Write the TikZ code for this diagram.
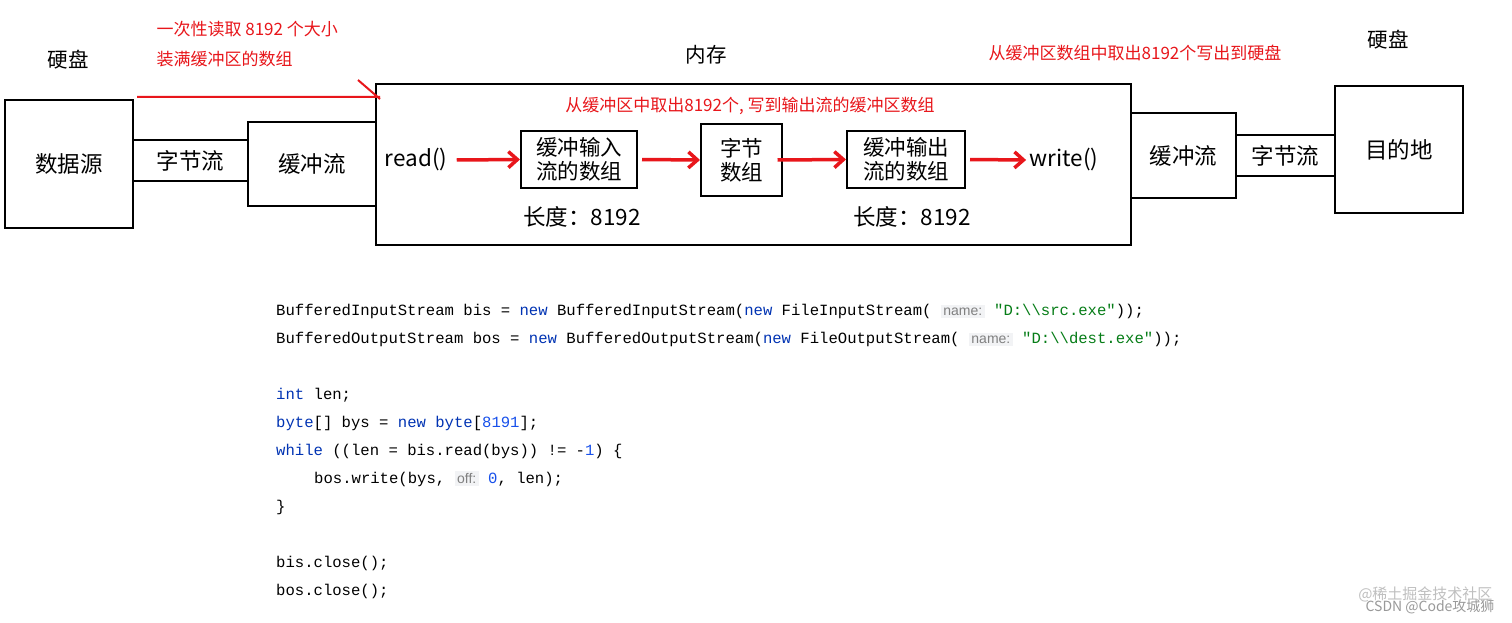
\documentclass[tikz,border=0pt]{standalone}
\usepackage{fontspec}
\setmainfont{Noto Sans CJK SC}
\newfontfamily\codefont{Liberation Mono}
\newfontfamily\hintfont{Liberation Sans}
\usetikzlibrary{arrows.meta}
\definecolor{kw}{HTML}{0033B3}
\definecolor{str}{HTML}{067D17}
\definecolor{num}{HTML}{1750EB}
\definecolor{hintbg}{HTML}{F2F3F5}
\definecolor{redc}{HTML}{E8161B}
\newcommand{\kwd}[1]{\textcolor{kw}{#1}}
\newcommand{\strg}[1]{\textcolor{str}{#1}}
\newcommand{\numb}[1]{\textcolor{num}{#1}}
\newcommand{\hintb}[1]{{\setlength{\fboxsep}{2.5pt}\colorbox{hintbg}{\hintfont\fontsize{14}{14}\selectfont\textcolor{gray}{#1}}}}
\begin{document}
\begin{tikzpicture}[x=1pt,y=-1pt,
  box/.style={draw,line width=2pt,inner sep=0pt},
  lbl/.style={font=\fontsize{22.5}{25}\selectfont,align=center},
  red/.style={text=redc,font=\fontsize{17}{19}\selectfont},
  arr/.style={draw=redc,line width=3.5pt,-{Straight Barb[length=9pt,width=16pt,line width=3.5pt]}},
  code/.style={anchor=west,font=\codefont\fontsize{15.6}{16}\selectfont,inner sep=0pt}]
\useasboundingbox[fill=white] (0,0) rectangle (1512,623);
% boxes
\node[box,minimum width=128pt,minimum height=128pt] (src) at (69,164) {};
\node[lbl] at (src) {数据源};
\node[box,minimum width=115pt,minimum height=41pt] (bl) at (190.5,160.5) {};
\node[lbl] at (bl) {字节流};
\node[box,minimum width=128pt,minimum height=84pt] (cl) at (312,164) {};
\node[lbl] at (cl) {缓冲流};
\node[box,minimum width=755pt,minimum height=161pt] (mem) at (753.5,164.5) {};
\node[box,minimum width=116pt,minimum height=57pt] (inb) at (579,159.5) {};
\node[lbl,font=\fontsize{21.5}{24}\selectfont] at (inb) {缓冲输入\\流的数组};
\node[box,minimum width=81pt,minimum height=72pt] (ba) at (741.5,160) {};
\node[lbl,font=\fontsize{21.5}{24}\selectfont] at (ba) {字节\\数组};
\node[box,minimum width=118pt,minimum height=57pt] (outb) at (906,159.5) {};
\node[lbl,font=\fontsize{21.5}{24}\selectfont] at (outb) {缓冲输出\\流的数组};
\node[box,minimum width=105pt,minimum height=85pt] (cr) at (1183.5,155.5) {};
\node[lbl] at (cr) {缓冲流};
\node[box,minimum width=99pt,minimum height=41pt] (br) at (1285.5,155.5) {};
\node[lbl] at (br) {字节流};
\node[box,minimum width=128pt,minimum height=127pt] (dst) at (1399,149.5) {};
\node[lbl] at (dst) {目的地};
% labels
\node[lbl,font=\fontsize{20.5}{23}\selectfont] (h1) at (68,60) {硬盘};
\node[lbl,font=\fontsize{20.5}{23}\selectfont] (h2) at (1388,40) {硬盘};
\node[lbl,font=\fontsize{20.5}{23}\selectfont] (nc) at (706,55) {内存};
\node[lbl] (rd) at (416,160) {read()};
\node[lbl] (wr) at (1064,160) {write()};
\node[lbl] (l1) at (582,217) {长度：8192};
\node[lbl] (l2) at (912,217) {长度：8192};
\node[red,anchor=west] (t1) at (153,29) {一次性读取 8192 个大小};
\node[red,anchor=west] (t2) at (153,59) {装满缓冲区的数组};
\node[red] (t3) at (750,106) {从缓冲区中取出8192个, 写到输出流的缓冲区数组};
\node[red] (t4) at (1135,53) {从缓冲区数组中取出8192个写出到硬盘};
% red arrows
\coordinate (ra) at (137,97);
\coordinate (rb) at (380,99);
\coordinate (rc) at (358,80);
\draw[redc,line width=2pt] (ra) -- (380,97) (rb) -- (rc);
\draw[arr] (rd.east) ++(6,0) -- (inb.west);
\draw[arr] (inb) ++(63,0) -- (ba.west);
\draw[arr] (ba) ++(36,0) -- (outb.west);
\draw[arr] (outb) ++(64,0) -- (wr.west);
% code
\node[code] (c1) at (276,311) {BufferedInputStream bis = \kwd{new} BufferedInputStream(\kwd{new} FileInputStream( \hintb{name:} \strg{"D:\textbackslash\textbackslash src.exe"}));};
\node[code] (c2) at (276,339) {BufferedOutputStream bos = \kwd{new} BufferedOutputStream(\kwd{new} FileOutputStream( \hintb{name:} \strg{"D:\textbackslash\textbackslash dest.exe"}));};
\node[code] (c3) at (276,395) {\kwd{int} len;};
\node[code] (c4) at (276,423) {\kwd{byte}[] bys = \kwd{new} \kwd{byte}[\numb{8191}];};
\node[code] (c5) at (276,451) {\kwd{while} ((len = bis.read(bys)) != -\numb{1}) \{};
\node[code] (c6) at (314,479) {bos.write(bys, \hintb{off:} \numb{0}, len);};
\node[code] (c7) at (276,507) {\}};
\node[code] (c8) at (276,563) {bis.close();};
\node[code] (c9) at (276,591) {bos.close();};
\node[anchor=east,text=black!25,font=\fontsize{15}{15}\selectfont] (wm1) at (1496,594) {@稀土掘金技术社区};
\node[anchor=east,text=black!40,font=\fontsize{14}{14}\selectfont] (wm2) at (1498,607) {CSDN @Code攻城狮};
\end{tikzpicture}
\end{document}
